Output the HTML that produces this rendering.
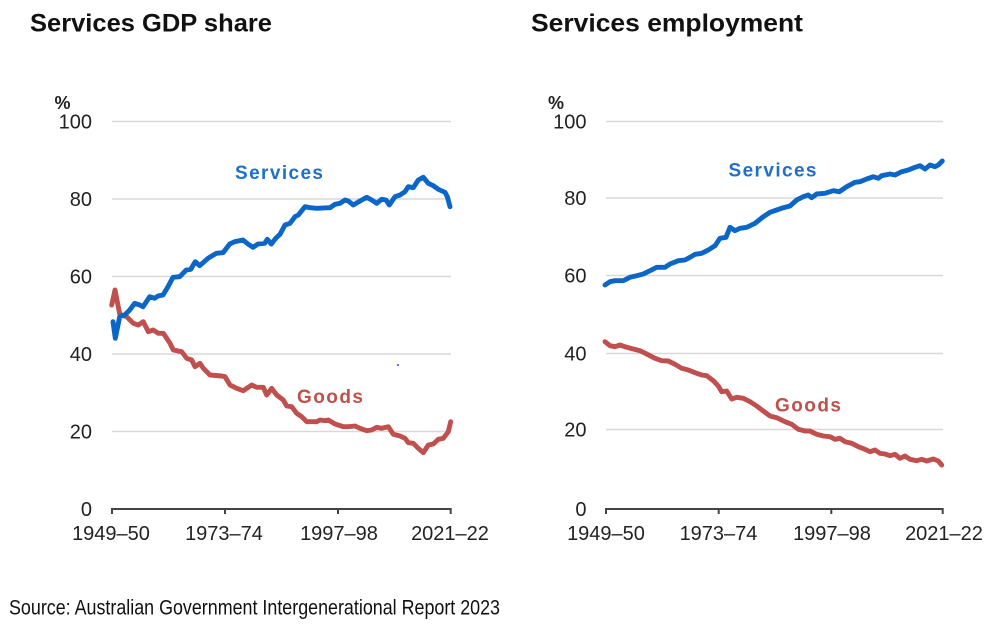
<!DOCTYPE html>
<html><head><meta charset="utf-8"><style>
html,body{margin:0;padding:0;background:#fff;}
svg{display:block;}
</style></head><body>
<svg width="999" height="632" viewBox="0 0 999 632" xmlns="http://www.w3.org/2000/svg">
<rect width="999" height="632" fill="#fff"/>
<!-- Titles -->
<text x="30" y="31.5" font-family="Liberation Sans, sans-serif" font-weight="bold" font-size="25" fill="#111" textLength="242" lengthAdjust="spacingAndGlyphs">Services GDP share</text>
<text x="531" y="31.5" font-family="Liberation Sans, sans-serif" font-weight="bold" font-size="25" fill="#111" textLength="272" lengthAdjust="spacingAndGlyphs">Services employment</text>

<!-- LEFT CHART -->
<g stroke="#d9d9d9" stroke-width="1.6">
<line x1="112" y1="121.5" x2="451" y2="121.5"/>
<line x1="112" y1="199" x2="451" y2="199"/>
<line x1="112" y1="276.5" x2="451" y2="276.5"/>
<line x1="112" y1="354" x2="451" y2="354"/>
<line x1="112" y1="431.5" x2="451" y2="431.5"/>
</g>
<g stroke="#444" stroke-width="2">
<line x1="111" y1="509" x2="451.5" y2="509"/>
<line x1="112" y1="508" x2="112" y2="514"/>
<line x1="225" y1="508" x2="225" y2="514"/>
<line x1="338" y1="508" x2="338" y2="514"/>
<line x1="450.7" y1="508" x2="450.7" y2="514"/>
</g>
<g font-family="Liberation Sans, sans-serif" font-size="20" fill="#222" text-anchor="end">
<text x="92" y="128.5">100</text>
<text x="92" y="206">80</text>
<text x="92" y="283.5">60</text>
<text x="92" y="361">40</text>
<text x="92" y="438.5">20</text>
<text x="92" y="516">0</text>
</g>
<text x="54.5" y="109" font-family="Liberation Sans, sans-serif" font-weight="bold" font-size="18" fill="#222">%</text>
<g font-family="Liberation Sans, sans-serif" font-size="20" fill="#222" text-anchor="middle">
<text x="111" y="540">1949–50</text>
<text x="224" y="540">1973–74</text>
<text x="339" y="540">1997–98</text>
<text x="450" y="540">2021–22</text>
</g>
<polyline fill="none" stroke="#c0504d" stroke-width="4.9" stroke-linejoin="round" stroke-linecap="round" points="111.7,305 115,290 119.7,314 126.7,316.7 133.3,323.3 138.3,325 143.3,321.7 148.3,331.7 153.3,330 158.3,333.3 163.3,333.3 170,343.3 173.3,350 181.7,351.7 186.7,358.3 191.7,360 195,366.7 200,363.3 203.3,368.3 210,375 221.7,376 225,376.7 230,385 236.7,388.3 243.3,390.7 251.7,385 256.7,387.3 263.3,387.3 266.7,395 271.7,388.3 276.7,395 283.3,400 286.7,406 291.7,406.7 296.7,413.3 301.7,416.7 306.7,421.7 316.7,421.7 320,420 325,420.7 328.3,420 335,424 343.3,426.7 348.3,426.7 355,426 360,428.3 366.7,430.7 371.7,430 376.7,427.3 381.7,428.3 388.3,426.7 393.3,434.3 400,436 405,438.3 408.3,442.7 413.3,443.3 418.3,448.3 423.3,452.7 428.3,445 433.3,444 438.3,439.3 443.3,438.3 448.3,431.7 450.7,421.7"/>
<polyline fill="none" stroke="#0b66c8" stroke-width="4.9" stroke-linejoin="round" stroke-linecap="round" points="113,321.7 115.3,338.3 119.7,316.7 124.7,315 129.7,310 134.7,303.3 139.7,305 143,306.7 149.7,296.7 154.7,298.3 158,296 163,295 168,286.7 173,277.3 179.7,276.7 186.3,270 190.7,269.3 195.3,261.7 199.7,265.7 208,258.3 216.3,253.3 223,252.7 229.7,244 234.7,241.7 243,240 248,244 253,247.3 258,244 264.7,243.3 267.3,239.3 271.3,244 276,238 280,234.3 285,225 290,223.3 295,216.7 298.3,215 305,206.7 310,207.7 316.7,208.3 330,207.7 335,204.3 340,203.3 345,200 348.3,201 353.3,205 360,201 366.7,197.3 371.7,200 376.7,203.3 381.7,199.3 386,200 389.3,205 395,196.7 400,195 405,191.7 408.3,186.7 413.3,187.7 418.3,180 423.3,177.3 428.3,183.3 433.3,185.7 438.3,189.3 445,192.3 447.3,196.7 450,206.7"/>
<circle cx="398" cy="365" r="1" fill="#3344ff"/>
<text x="235" y="179" font-family="Liberation Sans, sans-serif" font-weight="bold" font-size="19" fill="#1f6fc8" textLength="88" lengthAdjust="spacing">Services</text>
<text x="297" y="403" font-family="Liberation Sans, sans-serif" font-weight="bold" font-size="19" fill="#c0504d" textLength="66" lengthAdjust="spacing">Goods</text>

<!-- RIGHT CHART -->
<g stroke="#d9d9d9" stroke-width="1.6">
<line x1="606" y1="121.5" x2="943" y2="121.5"/>
<line x1="606" y1="198" x2="943" y2="198"/>
<line x1="606" y1="275.5" x2="943" y2="275.5"/>
<line x1="606" y1="353.5" x2="943" y2="353.5"/>
<line x1="606" y1="429.5" x2="943" y2="429.5"/>
</g>
<g stroke="#444" stroke-width="2">
<line x1="605" y1="509" x2="943.5" y2="509"/>
<line x1="606" y1="508" x2="606" y2="514"/>
<line x1="718.7" y1="508" x2="718.7" y2="514"/>
<line x1="831.3" y1="508" x2="831.3" y2="514"/>
<line x1="942.7" y1="508" x2="942.7" y2="514"/>
</g>
<g font-family="Liberation Sans, sans-serif" font-size="20" fill="#222" text-anchor="end">
<text x="586.5" y="128.5">100</text>
<text x="586.5" y="205">80</text>
<text x="586.5" y="282.5">60</text>
<text x="586.5" y="360.5">40</text>
<text x="586.5" y="436.5">20</text>
<text x="586.5" y="516">0</text>
</g>
<text x="548" y="109" font-family="Liberation Sans, sans-serif" font-weight="bold" font-size="18" fill="#222">%</text>
<g font-family="Liberation Sans, sans-serif" font-size="20" fill="#222" text-anchor="middle">
<text x="606" y="540">1949–50</text>
<text x="718.5" y="540">1973–74</text>
<text x="832" y="540">1997–98</text>
<text x="944" y="540">2021–22</text>
</g>
<polyline fill="none" stroke="#c0504d" stroke-width="4.9" stroke-linejoin="round" stroke-linecap="round" points="605,341.7 610,345.7 615,346.7 620,345 626.7,347.3 633.3,349 640,350.7 646.7,354 655,358.3 661.7,360.7 668.3,361 675,364.3 681.7,368.3 688.3,370 695,372.7 701.7,375 706.7,375.7 713.3,380.7 718.3,386 721.7,391.7 726.7,391 731.7,399 736.7,397.3 743.3,398.3 750,401.7 756.7,406 763.3,411 770,416 776.7,417.7 785,421.7 791.7,424.3 798.3,429.3 805,431 810,431 816.7,434.3 823.3,436 830,436.7 835,439.3 840,438.3 845,441.7 851.7,443.3 858.3,446.7 865,449.3 870,451.7 875,450 880,453.3 885,454 890,455.7 895,454.3 900,458.3 905,456 910,459.3 916.7,460.7 921.7,459.3 926.7,461 933.3,459 938.3,461 941.7,465"/>
<polyline fill="none" stroke="#0b66c8" stroke-width="4.9" stroke-linejoin="round" stroke-linecap="round" points="605,285 610,281.7 615,280.7 623.3,280.7 630,277.3 636.7,275.7 643.3,274 650,270.7 656.7,267.3 665,267.3 670,264 678.3,260.7 685,260 690,257.3 695,254.3 701.7,253.3 708.3,250 715,245.7 720,238.3 726,237.3 730,227.3 735,230.7 740,228.3 746.7,227.3 755,223.3 763.3,216.7 770,212.3 776.7,210 783.3,207.7 790,206 796.7,200 803.3,196.7 808.3,195 811.7,197.7 816.7,194 825,193.3 833.3,190.7 839.3,191.7 846.7,186.7 855,182.3 860,181.7 866.7,179 873.3,176.7 878.3,178.3 881.7,175.7 890,174 895,175 901.7,171.7 908.3,170 915,167.3 920,165.7 925,169 930,165 935,166.7 938.3,165 942.3,161"/>
<text x="728.5" y="176.5" font-family="Liberation Sans, sans-serif" font-weight="bold" font-size="19" fill="#1f6fc8" textLength="88" lengthAdjust="spacing">Services</text>
<text x="775" y="411.5" font-family="Liberation Sans, sans-serif" font-weight="bold" font-size="19" fill="#c0504d" textLength="66" lengthAdjust="spacing">Goods</text>

<!-- Source -->
<text x="9" y="614.5" font-family="Liberation Sans, sans-serif" font-size="21" fill="#111" textLength="491" lengthAdjust="spacingAndGlyphs">Source: Australian Government Intergenerational Report 2023</text>
</svg>
</body></html>
